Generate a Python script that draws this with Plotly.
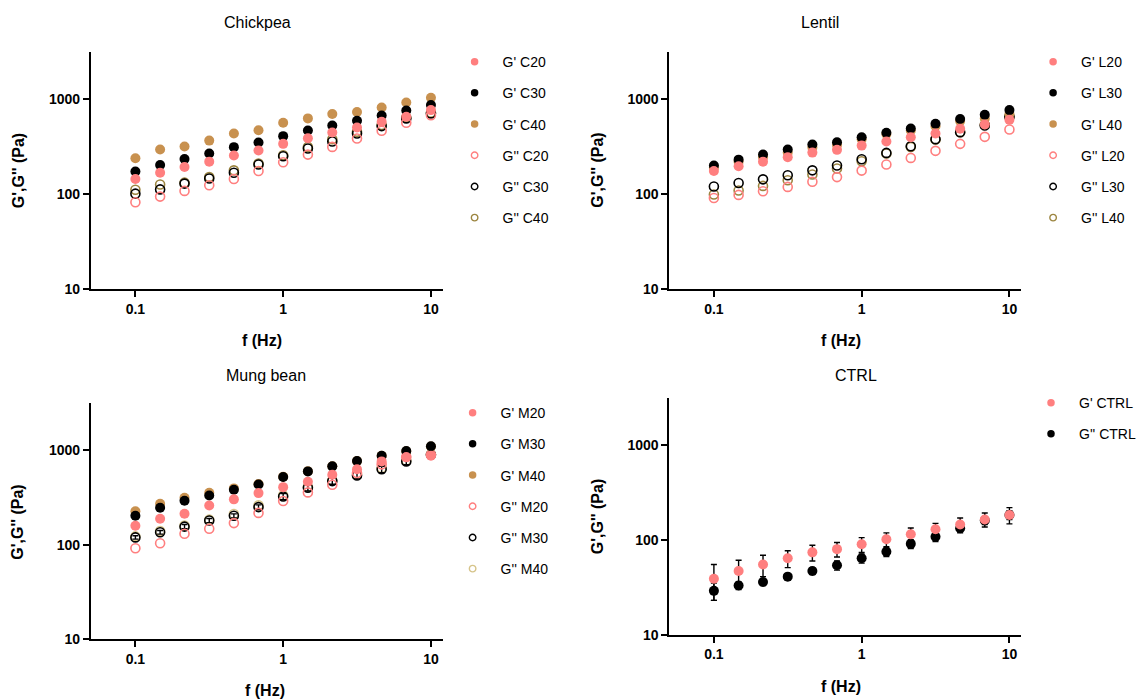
import plotly.graph_objects as go

# target picture size, and the (taller) canvas height that gets squeezed to it
W, H_OUT = 1141, 699
H = 708
SY = H / H_OUT

freq = [0.1, 0.147, 0.215, 0.316, 0.464, 0.681, 1.0, 1.47, 2.15, 3.16, 4.64, 6.81, 10.0]

# Chickpea
gp_c20 = [144, 168, 193, 220, 255, 288, 339, 389, 447, 505, 580, 655, 771]
gp_c30 = [173, 203, 235, 268, 313, 350, 409, 469, 530, 594, 677, 764, 871]
gp_c40 = [239, 295, 318, 367, 436, 473, 566, 630, 700, 735, 822, 929, 1042]
gpp_c20 = [82, 94, 108, 124, 144, 175, 217, 261, 315, 386, 466, 566, 682]
gpp_c30 = [101, 112, 129, 146, 168, 205, 251, 303, 359, 437, 522, 630, 711]
gpp_c40 = [111, 126, 132, 151, 178, 210, 257, 315, 380, 454, 535, 644, 723]

# Lentil
gp_l20 = [175, 197, 220, 245, 274, 293, 325, 359, 399, 437, 489, 543, 608]
gp_l30 = [200, 231, 261, 295, 334, 353, 399, 444, 493, 553, 620, 688, 771]
gp_l40 = [190, 220, 245, 275, 310, 330, 380, 430, 470, 520, 590, 630, 700]
gpp_l20 = [91, 98, 107, 119, 135, 151, 177, 205, 241, 286, 339, 402, 481]
gpp_l30 = [120, 131, 143, 158, 178, 200, 233, 272, 320, 380, 451, 530, 655]
gpp_l40 = [99, 109, 122, 140, 161, 186, 222, 268, 315, 377, 451, 539, 655]

# Mung bean
gp_m20 = [159, 189, 213, 261, 303, 353, 408, 465, 552, 630, 764, 849, 878]
gp_m30 = [203, 247, 293, 333, 383, 436, 522, 599, 677, 771, 878, 984, 1103]
gp_m40 = [227, 272, 315, 356, 396, 440, 525, 600, 680, 770, 875, 980, 1100]
gpp_m20 = [92, 104, 131, 148, 170, 218, 291, 359, 433, 575, 711, 849, 900]
gpp_m30 = [120, 136, 156, 181, 203, 251, 325, 402, 473, 543, 630, 764, 900]
gpp_m40 = [123, 140, 160, 185, 212, 262, 335, 412, 480, 555, 650, 780, 910]
err_m30 = [5, 6, 8, 9, 10, 14, 25, 30, 35, 45, 50, 60, 70]

# CTRL
gp_ctrl = [39, 47, 55, 64, 74, 80, 90, 102, 115, 130, 146, 165, 184]
gp_ctrl_err = [16, 14, 14, 13, 14, 14, 16, 17, 19, 20, 25, 28, 36]
gpp_ctrl = [29, 33, 36, 41, 47, 54, 64, 75, 91, 108, 133, 161, 184]
gpp_ctrl_err = [6, 3, 3, 3, 4, 6, 7, 8, 10, 12, 14, 15, 20]

PINK = "#FF7F7F"
BLACK = "#000000"
TAN = "#C8914F"
TAN_OPEN = "#9C8540"
TAN_OPEN_M = "#D6C48A"

FONT = "Liberation Sans, Arial, Helvetica, sans-serif"

fig = go.Figure()


def marker_of(color, filled, size):
    if filled:
        return dict(symbol="circle", size=size, color=color, line=dict(width=0))
    return dict(symbol="circle-open", size=size - 1, color=color,
                line=dict(width=1.6 if size > 8 else 1.4, color=color))


def add(x, y, name, color, filled, xa, ya, err=None):
    tr = dict(x=x, y=y, name=name, mode="markers", marker=marker_of(color, filled, 10),
              xaxis=xa, yaxis=ya, showlegend=False)
    if err is not None:
        tr["error_y"] = dict(type="data", array=err, visible=True, color="black",
                             thickness=1.4, width=3)
    fig.add_trace(go.Scatter(**tr))


def add_legend(items, xa, ya, legend):
    for name, color, filled in items:
        fig.add_trace(go.Scatter(x=[None], y=[None], name=name, mode="markers",
                                 marker=marker_of(color, filled, 7.5),
                                 xaxis=xa, yaxis=ya, legend=legend,
                                 legendgroup=legend + name, showlegend=True))


# Panel 1 - Chickpea
add(freq, gpp_c40, "G'' C40", TAN_OPEN, False, "x", "y")
add(freq, gpp_c30, "G'' C30", BLACK, False, "x", "y")
add(freq, gpp_c20, "G'' C20", PINK, False, "x", "y")
add(freq, gp_c40, "G' C40", TAN, True, "x", "y")
add(freq, gp_c30, "G' C30", BLACK, True, "x", "y")
add(freq, gp_c20, "G' C20", PINK, True, "x", "y")
add_legend([("G' C20", PINK, True), ("G' C30", BLACK, True), ("G' C40", TAN, True),
            ("G'' C20", PINK, False), ("G'' C30", BLACK, False), ("G'' C40", TAN_OPEN, False)],
           "x", "y", "legend")

# Panel 2 - Lentil
add(freq, gpp_l40, "G'' L40", TAN_OPEN, False, "x2", "y2")
add(freq, gpp_l30, "G'' L30", BLACK, False, "x2", "y2")
add(freq, gpp_l20, "G'' L20", PINK, False, "x2", "y2")
add(freq, gp_l40, "G' L40", TAN, True, "x2", "y2")
add(freq, gp_l30, "G' L30", BLACK, True, "x2", "y2")
add(freq, gp_l20, "G' L20", PINK, True, "x2", "y2")
add_legend([("G' L20", PINK, True), ("G' L30", BLACK, True), ("G' L40", TAN, True),
            ("G'' L20", PINK, False), ("G'' L30", BLACK, False), ("G'' L40", TAN_OPEN, False)],
           "x2", "y2", "legend2")

# Panel 3 - Mung bean
add(freq, gpp_m40, "G'' M40", TAN_OPEN_M, False, "x3", "y3")
add(freq, gpp_m30, "G'' M30", BLACK, False, "x3", "y3", err=err_m30)
add(freq, gpp_m20, "G'' M20", PINK, False, "x3", "y3")
add(freq, gp_m40, "G' M40", TAN, True, "x3", "y3")
add(freq, gp_m30, "G' M30", BLACK, True, "x3", "y3")
add(freq, gp_m20, "G' M20", PINK, True, "x3", "y3")
add_legend([("G' M20", PINK, True), ("G' M30", BLACK, True), ("G' M40", TAN, True),
            ("G'' M20", PINK, False), ("G'' M30", BLACK, False), ("G'' M40", TAN_OPEN_M, False)],
           "x3", "y3", "legend3")

# Panel 4 - CTRL
add(freq, gpp_ctrl, "G'' CTRL", BLACK, True, "x4", "y4", err=gpp_ctrl_err)
add(freq, gp_ctrl, "G' CTRL", PINK, True, "x4", "y4", err=gp_ctrl_err)
add_legend([("G' CTRL", PINK, True), ("G'' CTRL", BLACK, True)], "x4", "y4", "legend4")


def px_x(p):
    return p / W


def px_y(p):
    return 1 - (p * SY) / H


panels = {
    "": ((91, 443), (288.3, 52.0)),
    "2": ((670, 1022), (288.3, 52.0)),
    "3": ((91, 443), (638.5, 402.5)),
    "4": ((670, 1022), (633.7, 397.5)),
}

axis_common = dict(showline=True, linecolor="black", linewidth=2, ticks="outside",
                   ticklen=6, tickwidth=2, tickcolor="black", showgrid=False,
                   zeroline=False, type="log",
                   tickfont=dict(family=FONT, size=14, color="black", weight="bold"))

layout = dict(width=W, height=H, margin=dict(l=0, r=0, t=0, b=0),
              plot_bgcolor="white", paper_bgcolor="white", showlegend=True)

for k, ((x0, x1), (yb, yt)) in panels.items():
    layout["xaxis" + k] = dict(axis_common, domain=[px_x(x0), px_x(x1)], range=[-1.301, 1.079],
                               tickvals=[0.1, 1, 10], ticktext=["0.1", "1", "10"],
                               anchor="y" + k)
    layout["yaxis" + k] = dict(axis_common, domain=[px_y(yb), px_y(yt)], range=[1, 3.5],
                               tickvals=[10, 100, 1000], ticktext=["10", "100", "1000"],
                               anchor="x" + k)

leg_common = dict(font=dict(family=FONT, size=14, color="black"), bgcolor="rgba(0,0,0,0)",
                  xanchor="left", yanchor="top", traceorder="grouped",
                  tracegroupgap=10, itemsizing="trace", itemwidth=46)
layout["legend"] = dict(leg_common, x=px_x(447), y=px_y(46))
layout["legend2"] = dict(leg_common, x=px_x(1026), y=px_y(46))
layout["legend3"] = dict(leg_common, x=px_x(445), y=px_y(396.5))
layout["legend4"] = dict(leg_common, x=px_x(1024), y=px_y(386.5))

fig.update_layout(**layout)

annos = []


def ann(text, x, y, size=16, bold=False, angle=0):
    annos.append(dict(text=text, x=px_x(x), y=px_y(y), xref="paper", yref="paper",
                      showarrow=False, textangle=angle, xanchor="center", yanchor="middle",
                      font=dict(family=FONT, size=size, color="black",
                                weight="bold" if bold else "normal")))


ann("Chickpea", 258, 22)
ann("Lentil", 821, 22)
ann("Mung bean", 266, 375)
ann("CTRL", 857, 375)
ann("f (Hz)", 262, 340, bold=True)
ann("f (Hz)", 842, 340, bold=True)
ann("f (Hz)", 265, 690, bold=True)
ann("f (Hz)", 842, 686, bold=True)
ann("G',G'' (Pa)", 18, 170, bold=True, angle=-90)
ann("G',G'' (Pa)", 598, 170, bold=True, angle=-90)
ann("G',G'' (Pa)", 18, 521, bold=True, angle=-90)
ann("G',G'' (Pa)", 598, 516, bold=True, angle=-90)
fig.update_layout(annotations=annos)

fig.write_html("out.html", config={"displayModeBar": False},
               post_script="document.body.style.margin='0px';document.body.style.overflow='hidden';")
